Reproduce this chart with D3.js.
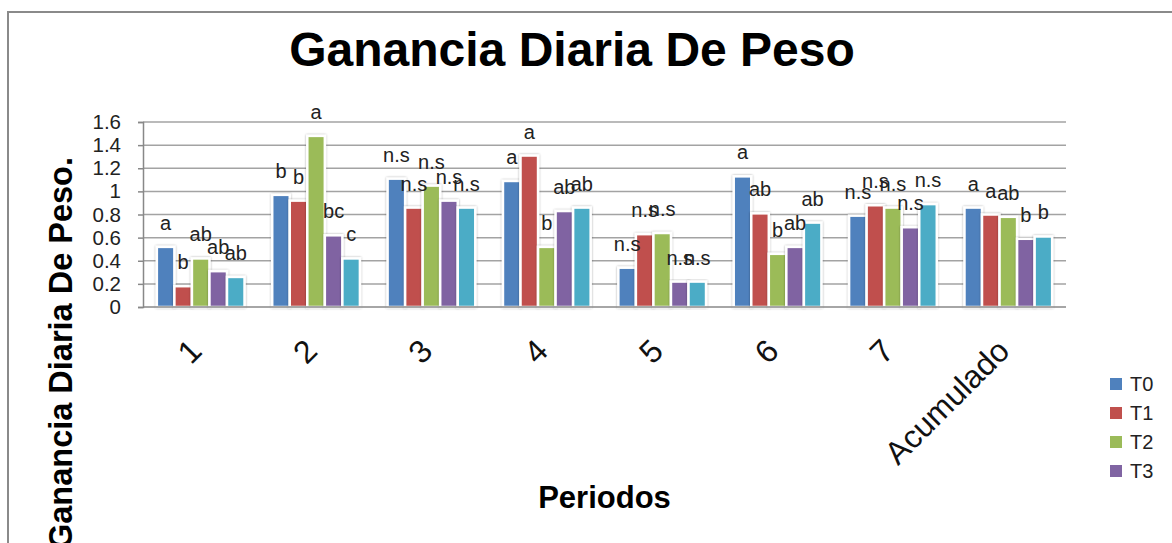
<!DOCTYPE html>
<html><head><meta charset="utf-8">
<script src="https://cdn.jsdelivr.net/npm/d3@7"></script>
<style>body{margin:0;background:#fff;} svg{display:block;font-family:"Liberation Sans",Arial,sans-serif;}</style>
</head><body><svg id="c" width="1172" height="543"></svg>
<script>
const categories = ["1","2","3","4","5","6","7","Acumulado"];
const seriesNames = ["T0","T1","T2","T3","T4"];
const T0 = [0.52,0.97,1.11,1.09,0.34,1.13,0.79,0.86];
const T1 = [0.18,0.92,0.86,1.31,0.63,0.81,0.88,0.80];
const T2 = [0.42,1.48,1.05,0.52,0.64,0.46,0.86,0.78];
const T3 = [0.31,0.62,0.92,0.83,0.22,0.52,0.69,0.59];
const T4 = [0.26,0.42,0.86,0.86,0.22,0.73,0.89,0.61];
const L_T0 = ["a","b","n.s","a","n.s","a","n.s","a"];
const L_T1 = ["b","b","n.s","a","n.s","ab","n.s","a"];
const L_T2 = ["ab","a","n.s","b","n.s","b","n.s","ab"];
const L_T3 = ["ab","bc","n.s","ab","n.s","ab","n.s","b"];
const L_T4 = ["ab","c","n.s","ab","n.s","ab","n.s","b"];
const yTicks = [0,0.2,0.4,0.6,0.8,1,1.2,1.4,1.6];
const legendSeries = ["T0","T1","T2","T3"];
const colors = ["#4F81BD","#C0504D","#9BBB59","#8064A2","#4BACC6"];

const values = [T0,T1,T2,T3,T4];
const labels = [L_T0,L_T1,L_T2,L_T3,L_T4];
const svg = d3.select("#c");

// defs: shadow
const defs = svg.append("defs");
const f = defs.append("filter").attr("id","sh").attr("x","-30%").attr("y","-10%").attr("width","160%").attr("height","120%");
f.append("feDropShadow").attr("dx",0).attr("dy",0).attr("stdDeviation",1.3).attr("flood-color","#000").attr("flood-opacity",0.35);

// chart frame
svg.append("rect").attr("x",8).attr("y",12).attr("width",1200).attr("height",600)
  .attr("fill","none").attr("stroke","#8a8a8a").attr("stroke-width",2);

const x0 = d3.scaleBand().domain(categories).range([143,1066]).paddingInner(0.24).paddingOuter(0.12);
const x1 = d3.scaleBand().domain(seriesNames).range([0,x0.bandwidth()]);
const y = d3.scaleLinear().domain([0,1.6]).range([307,122]);
const color = d3.scaleOrdinal().domain(seriesNames).range(colors);

// gridlines
svg.append("g").selectAll("line").data(yTicks.slice(1)).join("line")
  .attr("x1",143).attr("x2",1066).attr("y1",d=>y(d)).attr("y2",d=>y(d))
  .attr("stroke","#a3a3a3").attr("stroke-width",1.5);

// y axis
const ya = svg.append("g").attr("transform","translate(143,0)")
  .call(d3.axisLeft(y).tickValues(yTicks).tickSize(5).tickPadding(17).tickFormat(d=>String(d)));
ya.select(".domain").attr("stroke","#888").attr("stroke-width",1.5);
ya.selectAll(".tick line").attr("stroke","#888").attr("stroke-width",1.5);
ya.selectAll(".tick text").attr("font-size",20.5).attr("fill","#222").attr("font-family","Liberation Sans, Arial, sans-serif");

// bars
const flat = [];
categories.forEach((c,i)=>seriesNames.forEach((s,j)=>flat.push({c,s,v:values[j][i],l:labels[j][i]})));
svg.append("g").selectAll("rect").data(flat).join("rect")
  .attr("x",d=>x0(d.c)+x1(d.s)).attr("width",x1.bandwidth())
  .attr("y",d=>y(d.v)).attr("height",d=>y(0)-y(d.v))
  .attr("fill",d=>color(d.s)).attr("stroke","#fff").attr("stroke-width",2.5)
  .attr("filter","url(#sh)");

// x axis line
svg.append("line").attr("x1",143).attr("x2",1066).attr("y1",y(0)).attr("y2",y(0))
  .attr("stroke","#888").attr("stroke-width",1.5);

// data labels
svg.append("g").selectAll("text").data(flat).join("text")
  .attr("x",d=>x0(d.c)+x1(d.s)+x1.bandwidth()/2).attr("y",d=>y(d.v)-17)
  .attr("text-anchor","middle").attr("font-size",20).attr("fill","#222").text(d=>d.l);

// category labels
svg.append("g").selectAll("text").data(categories).join("text")
  .attr("transform",d=>`translate(${x0(d)+x0.bandwidth()/2+3},353) rotate(-45)`)
  .attr("text-anchor","end").attr("font-size",32).attr("fill","#111").text(d=>d);

// title
svg.append("text").attr("x",572).attr("y",66).attr("text-anchor","middle")
  .attr("font-size",48).attr("font-weight","bold").attr("fill","#000").text("Ganancia Diaria De Peso");

// axis titles
svg.append("text").attr("x",604.5).attr("y",508).attr("text-anchor","middle")
  .attr("font-size",31).attr("font-weight","bold").attr("fill","#000").text("Periodos");
svg.append("text").attr("transform","translate(72,157) rotate(-90)").attr("text-anchor","end")
  .attr("font-size",32.5).attr("font-weight","bold").attr("fill","#000").text("Ganancia Diaria De Peso.");

// legend
const lg = svg.append("g").selectAll("g").data(legendSeries).join("g")
  .attr("transform",(d,i)=>`translate(1110,${384+i*29})`);
lg.append("rect").attr("x",0).attr("y",-6).attr("width",12).attr("height",12).attr("fill",d=>color(d));
lg.append("text").attr("x",20).attr("y",0).attr("dy","0.35em").attr("font-size",20).attr("fill","#222").text(d=>d);
</script></body></html>
